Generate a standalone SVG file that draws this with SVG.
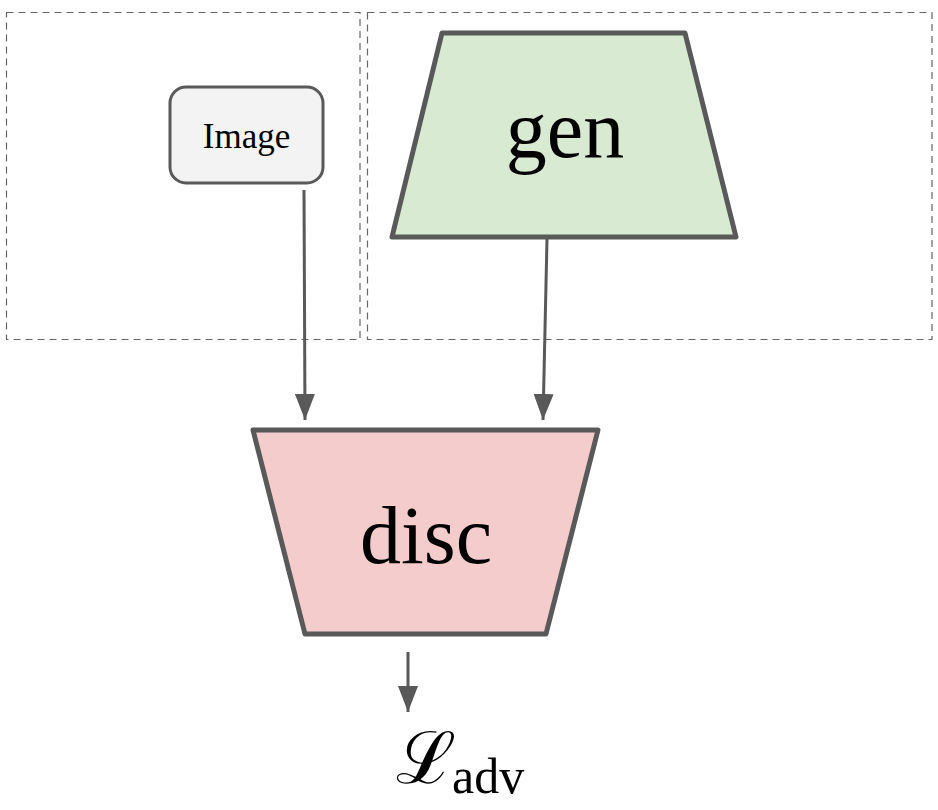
<svg xmlns="http://www.w3.org/2000/svg" width="938" height="810" viewBox="0 0 938 810">
<style>
.group{fill:none;stroke:#666666;stroke-width:1.2;stroke-dasharray:7,5}
.trap{stroke:#595959;stroke-width:5;stroke-linejoin:round}
.edge{fill:none;stroke:#595959;stroke-width:3}
.big{font-family:"Liberation Serif","Times New Roman",serif;font-size:82px;fill:#000;text-anchor:middle}
.lbl{font-family:"Liberation Serif","Times New Roman",serif;font-size:35px;fill:#000;text-anchor:middle}
</style>
<defs>
<marker id="arr" markerWidth="26" markerHeight="20" refX="26" refY="10" orient="auto" markerUnits="userSpaceOnUse" viewBox="0 0 26 20">
<path d="M0,0 L26,10 L0,20 Z" fill="#595959"/>
</marker>
</defs>
<rect width="938" height="810" fill="#ffffff"/>
<g id="groups">
<rect class="group" x="6.5" y="12.5" width="353.5" height="327"/>
<rect class="group" x="367.5" y="12.5" width="564.5" height="327"/>
</g>
<g id="image">
<rect x="170" y="87" width="153" height="96" rx="16" ry="16" fill="#f3f3f3" stroke="#595959" stroke-width="3"/>
<text class="lbl" x="246.5" y="148">Image</text>
</g>
<g id="gen">
<polygon class="trap" points="442,33 685,33 736,237 392,237" fill="#d9ead3"/>
<text class="big" x="565" y="157">gen</text>
</g>
<g id="disc">
<polygon class="trap" points="253,430 598,430 546,634 305,634" fill="#f4cccc"/>
<text class="big" x="426" y="563">disc</text>
</g>
<g id="loss">
<text x="396" y="783" font-family="'DejaVu Serif',serif" font-size="72" fill="#000">ℒ</text>
<text x="452" y="793" font-family="'Liberation Serif','Times New Roman',serif" font-size="50" fill="#000">adv</text>
</g>
<g id="connectors">
<line class="edge" x1="304" y1="190" x2="305" y2="420" marker-end="url(#arr)"/>
<line class="edge" x1="547" y1="239" x2="543" y2="420" marker-end="url(#arr)"/>
<line class="edge" x1="408" y1="652" x2="408" y2="712" marker-end="url(#arr)"/>
</g>
</svg>
